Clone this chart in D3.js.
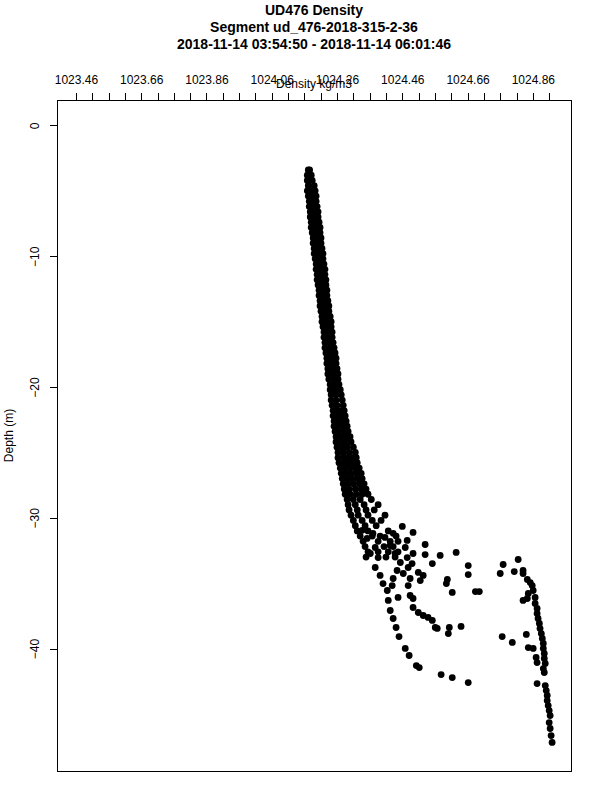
<!DOCTYPE html>
<html>
<head>
<meta charset="utf-8">
<script src="https://cdn.jsdelivr.net/npm/d3@7"></script>
<style>
  body { margin: 0; background: #fff; }
  text { font-family: "Liberation Sans", Arial, Helvetica, sans-serif; fill: #000; }
</style>
</head>
<body>
<div id="chart"></div>
<script>
  'use strict';

  //Title lines
  const titleLines = [
    "UD476 Density",
    "Segment ud_476-2018-315-2-36",
    "2018-11-14 03:54:50 - 2018-11-14 06:01:46"
  ];
  const xTitle = "Density kg/m3";
  const yTitle = "Depth (m)";

  //Axis ticks (labelled and unlabelled)
  const xLabelTicks = [1023.46, 1023.66, 1023.86, 1024.06, 1024.26, 1024.46, 1024.66, 1024.86];
  const xAllTicks = [1023.46, 1023.51, 1023.56, 1023.61, 1023.66, 1023.71, 1023.76, 1023.81, 1023.86, 1023.91,
    1023.96, 1024.01, 1024.06, 1024.11, 1024.16, 1024.21, 1024.26, 1024.31, 1024.36, 1024.41,
    1024.46, 1024.51, 1024.56, 1024.61, 1024.66, 1024.71, 1024.76, 1024.81, 1024.86, 1024.91];
  const yTicks = [0, -10, -20, -30, -40];
  const xDomain = [1023.4036, 1024.9784];
  const yDomain = [1.91, -49.4];

  //Dense part of the profile: [depth, density, density, ...]
  const bandRows = [
    [-3.4, 1024.172, 1024.176],
    [-3.8, 1024.169, 1024.181],
    [-4.2, 1024.169, 1024.184],
    [-4.6, 1024.172, 1024.190],
    [-5.0, 1024.169, 1024.181, 1024.193],
    [-5.4, 1024.172, 1024.184, 1024.196],
    [-5.8, 1024.175, 1024.187, 1024.196],
    [-6.2, 1024.175, 1024.187, 1024.199],
    [-6.6, 1024.178, 1024.190, 1024.202],
    [-7.0, 1024.178, 1024.190, 1024.202],
    [-7.4, 1024.181, 1024.193, 1024.205],
    [-7.8, 1024.181, 1024.196, 1024.208],
    [-8.2, 1024.184, 1024.196, 1024.208],
    [-8.6, 1024.187, 1024.199, 1024.211],
    [-9.0, 1024.187, 1024.199, 1024.211],
    [-9.4, 1024.190, 1024.202, 1024.214],
    [-9.8, 1024.190, 1024.205, 1024.217],
    [-10.2, 1024.193, 1024.205, 1024.217],
    [-10.6, 1024.196, 1024.208, 1024.220],
    [-11.0, 1024.196, 1024.208, 1024.223],
    [-11.4, 1024.199, 1024.211, 1024.223],
    [-11.8, 1024.199, 1024.214, 1024.226],
    [-12.2, 1024.202, 1024.214, 1024.226],
    [-12.6, 1024.205, 1024.217, 1024.229],
    [-13.0, 1024.205, 1024.217, 1024.229],
    [-13.4, 1024.208, 1024.220, 1024.232],
    [-13.8, 1024.208, 1024.223, 1024.235],
    [-14.2, 1024.211, 1024.223, 1024.235],
    [-14.6, 1024.214, 1024.226, 1024.239],
    [-15.0, 1024.214, 1024.226, 1024.242],
    [-15.4, 1024.217, 1024.229, 1024.242],
    [-15.8, 1024.220, 1024.232, 1024.245],
    [-16.2, 1024.220, 1024.232, 1024.245],
    [-16.6, 1024.223, 1024.235, 1024.248],
    [-17.0, 1024.223, 1024.239, 1024.251],
    [-17.4, 1024.226, 1024.239, 1024.254],
    [-17.8, 1024.229, 1024.242, 1024.257],
    [-18.2, 1024.229, 1024.245, 1024.257],
    [-18.6, 1024.232, 1024.245, 1024.260],
    [-19.0, 1024.232, 1024.248, 1024.263],
    [-19.4, 1024.235, 1024.251, 1024.263],
    [-19.8, 1024.239, 1024.254, 1024.266],
    [-20.2, 1024.239, 1024.254, 1024.270],
    [-20.6, 1024.242, 1024.257, 1024.273],
    [-21.0, 1024.242, 1024.257, 1024.276],
    [-21.4, 1024.245, 1024.260, 1024.279],
    [-21.8, 1024.248, 1024.260, 1024.270, 1024.282],
    [-22.2, 1024.248, 1024.260, 1024.273, 1024.285],
    [-22.6, 1024.251, 1024.263, 1024.276, 1024.288],
    [-23.0, 1024.251, 1024.263, 1024.279, 1024.291],
    [-23.4, 1024.254, 1024.266, 1024.282, 1024.294],
    [-23.8, 1024.257, 1024.270, 1024.285, 1024.300],
    [-24.2, 1024.257, 1024.273, 1024.288, 1024.303],
    [-24.6, 1024.260, 1024.276, 1024.291, 1024.310],
    [-25.0, 1024.263, 1024.279, 1024.297, 1024.316],
    [-25.4, 1024.263, 1024.279, 1024.291, 1024.306, 1024.319],
    [-25.8, 1024.266, 1024.282, 1024.294, 1024.310, 1024.322],
    [-26.2, 1024.270, 1024.285, 1024.300, 1024.316, 1024.328],
    [-26.6, 1024.273, 1024.288, 1024.303, 1024.319, 1024.334],
    [-27.0, 1024.276, 1024.291, 1024.306, 1024.322, 1024.337],
    [-27.4, 1024.279, 1024.294, 1024.310, 1024.328, 1024.343],
    [-27.8, 1024.282, 1024.297, 1024.316, 1024.334, 1024.349],
    [-28.2, 1024.285, 1024.300, 1024.319, 1024.337, 1024.355],
    [-28.6, 1024.291, 1024.310, 1024.331, 1024.365],
    [-29.0, 1024.294, 1024.316, 1024.343, 1024.386],
    [-29.4, 1024.297, 1024.322, 1024.349, 1024.374],
    [-29.8, 1024.303, 1024.325, 1024.355, 1024.407],
    [-30.2, 1024.310, 1024.337, 1024.368, 1024.395],
    [-30.6, 1024.316, 1024.346, 1024.380],
    [-31.0, 1024.322, 1024.355, 1024.417],
    [-31.4, 1024.331, 1024.368, 1024.392, 1024.441],
    [-31.8, 1024.340, 1024.386, 1024.423, 1024.447],
    [-32.2, 1024.346, 1024.404, 1024.432],
    [-32.6, 1024.355, 1024.386, 1024.417, 1024.447],
    [-33.0, 1024.349, 1024.410, 1024.438]
  ];

  //Scattered deep part of the profile: [density, depth]
  const tailPoints = [
    [1024.460, -30.66], [1024.493, -31.12], [1024.475, -31.73], [1024.530, -32.04],
    [1024.530, -32.81], [1024.493, -32.73], [1024.490, -33.50], [1024.509, -34.18],
    [1024.524, -34.41], [1024.515, -34.80], [1024.576, -32.88], [1024.552, -33.50],
    [1024.625, -32.65], [1024.598, -34.72], [1024.595, -35.03], [1024.613, -35.71],
    [1024.684, -35.64], [1024.696, -35.64], [1024.662, -33.65], [1024.662, -34.34],
    [1024.337, -30.96], [1024.352, -31.58], [1024.370, -31.19], [1024.377, -32.27],
    [1024.362, -32.73], [1024.386, -33.04], [1024.377, -33.80], [1024.392, -34.41],
    [1024.401, -35.03], [1024.414, -35.56], [1024.429, -35.18], [1024.432, -34.64],
    [1024.444, -34.03], [1024.454, -33.42], [1024.438, -32.73], [1024.423, -32.12],
    [1024.407, -31.50], [1024.432, -31.19], [1024.469, -32.27], [1024.475, -33.04],
    [1024.478, -33.80], [1024.463, -34.26], [1024.484, -34.64], [1024.478, -35.18],
    [1024.484, -35.94], [1024.493, -36.17], [1024.447, -36.09], [1024.417, -36.32],
    [1024.423, -37.09], [1024.432, -37.70], [1024.441, -38.39], [1024.450, -39.08],
    [1024.469, -39.99], [1024.481, -40.53], [1024.503, -41.30], [1024.512, -41.45],
    [1024.579, -41.99], [1024.613, -42.22], [1024.662, -42.60],
    [1024.493, -36.86], [1024.509, -37.24], [1024.524, -37.47], [1024.539, -37.62],
    [1024.552, -37.85], [1024.561, -38.39], [1024.567, -38.46], [1024.604, -38.39],
    [1024.601, -38.85], [1024.640, -38.31],
    [1024.769, -33.57], [1024.815, -33.19], [1024.803, -34.11], [1024.760, -34.26],
    [1024.830, -34.03], [1024.830, -34.26], [1024.843, -34.72], [1024.852, -34.95],
    [1024.858, -35.18], [1024.861, -35.56], [1024.846, -35.79], [1024.830, -36.32],
    [1024.843, -36.17], [1024.867, -36.09], [1024.867, -36.55], [1024.873, -36.93],
    [1024.873, -37.31], [1024.876, -37.70], [1024.880, -38.08], [1024.882, -38.46],
    [1024.886, -38.85], [1024.889, -39.23], [1024.892, -39.61], [1024.892, -39.99],
    [1024.895, -40.37], [1024.895, -40.76], [1024.898, -41.14], [1024.892, -41.53],
    [1024.895, -41.83], [1024.873, -42.68], [1024.898, -42.83], [1024.901, -43.21],
    [1024.904, -43.59], [1024.904, -43.98], [1024.907, -44.36], [1024.910, -44.74],
    [1024.913, -45.12], [1024.910, -45.66], [1024.913, -46.11], [1024.916, -46.65],
    [1024.919, -47.18], [1024.840, -38.92], [1024.846, -39.92], [1024.861, -39.99],
    [1024.870, -40.68], [1024.873, -41.07], [1024.797, -39.53], [1024.766, -39.08]
  ];

  //Canvas size and plot box
  let width = 600;
  let height = 800;
  let box = {left: 57, top: 100, right: 571, bottom: 771};

  let svg = d3.select("#chart").append("svg")
    .attr("width", width)
    .attr("height", height)
    .style("display", "block");

  svg.append("rect")
    .attr("width", width)
    .attr("height", height)
    .attr("fill", "#fff");

  //Scales
  let x = d3.scaleLinear().domain(xDomain).range([box.left + 0.5, box.right + 0.5]);
  let y = d3.scaleLinear().domain(yDomain).range([box.top + 0.5, box.bottom + 0.5]);

  //Titles
  svg.selectAll(".title")
    .data(titleLines)
    .enter()
    .append("text")
      .attr("class", "title")
      .attr("x", (box.left + box.right) / 2)
      .attr("y", function(d, i) { return 15 + i * 17; })
      .attr("text-anchor", "middle")
      .attr("font-size", "14px")
      .attr("font-weight", "bold")
      .text(function(d) { return d; });

  //Top axis - all small ticks, then the labelled ones
  let topAxis = svg.append("g").attr("transform", "translate(0," + box.top + ")");
  topAxis.call(d3.axisTop(x).tickValues(xAllTicks).tickSize(7).tickFormat(""));
  let topLabels = svg.append("g").attr("transform", "translate(0," + box.top + ")");
  topLabels.call(d3.axisTop(x).tickValues(xLabelTicks).tickSize(7).tickPadding(9.5)
    .tickFormat(d3.format(".2f")));
  svg.selectAll(".domain").remove();

  //Left axis with turned labels
  let leftAxis = svg.append("g").attr("transform", "translate(" + box.left + ",0)");
  leftAxis.call(d3.axisLeft(y).tickValues(yTicks).tickSize(7).tickFormat(d3.format("d")));
  leftAxis.select(".domain").remove();
  leftAxis.selectAll(".tick text")
    .attr("transform", "rotate(-90)")
    .attr("x", 0)
    .attr("y", -18)
    .attr("dy", null)
    .attr("text-anchor", "middle");

  svg.selectAll(".tick line").attr("stroke", "#000").attr("shape-rendering", "crispEdges");
  svg.selectAll(".tick text")
    .attr("fill", "#000")
    .attr("font-size", "12px")
    .attr("font-family", "\"Liberation Sans\", Arial, Helvetica, sans-serif");

  //Axis titles
  svg.append("text")
    .attr("x", (box.left + box.right) / 2)
    .attr("y", 88)
    .attr("text-anchor", "middle")
    .attr("font-size", "12px")
    .text(xTitle);

  svg.append("text")
    .attr("transform", "translate(13," + ((box.top + box.bottom) / 2) + ") rotate(-90)")
    .attr("text-anchor", "middle")
    .attr("font-size", "12px")
    .text(yTitle);

  //Plot frame
  svg.append("rect")
    .attr("x", box.left + 0.5)
    .attr("y", box.top + 0.5)
    .attr("width", box.right - box.left)
    .attr("height", box.bottom - box.top)
    .attr("fill", "none")
    .attr("stroke", "#000")
    .attr("shape-rendering", "crispEdges");

  //Flatten the rows into points
  let points = [];
  bandRows.forEach(function(row) {
    row.slice(1).forEach(function(v) { points.push({density: v, depth: row[0]}); });
  });
  tailPoints.forEach(function(p) { points.push({density: p[0], depth: p[1]}); });

  svg.append("g")
    .selectAll("circle")
    .data(points)
    .enter()
    .append("circle")
      .attr("cx", function(d) { return x(d.density); })
      .attr("cy", function(d) { return y(d.depth); })
      .attr("r", 3.4)
      .attr("fill", "#000");
</script>
</body>
</html>
